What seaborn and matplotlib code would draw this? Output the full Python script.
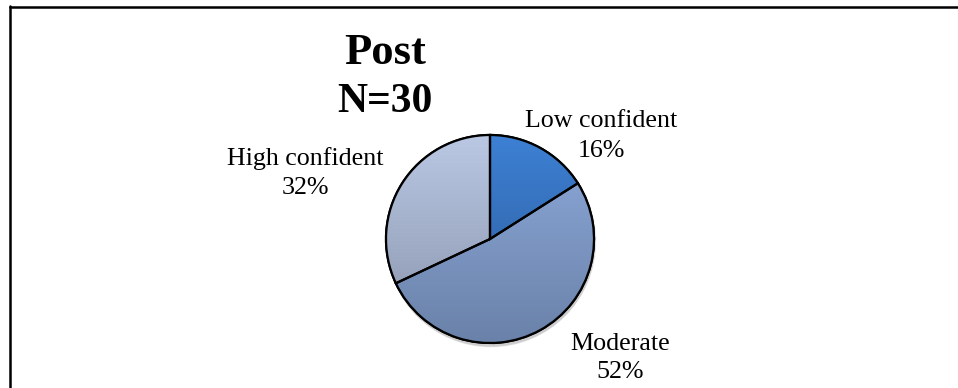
import numpy as np
import matplotlib
matplotlib.use("Agg")
import matplotlib.pyplot as plt
from matplotlib.lines import Line2D
from matplotlib.patches import Circle, Wedge
import seaborn as sns

# Post-course confidence survey
categories = ["Low confident", "Moderate", "High confident"]
shares = [16, 52, 32]
title_lines = ["Post", "N=30"]

# top / bottom colours of the vertical gradient in each slice
grad_top = ["#3d80d4", "#8eaadb", "#bac8e4"]
grad_bottom = ["#2c5a98", "#6a82a9", "#8893aa"]

sns.set_theme(style="white")
plt.rcParams["font.family"] = ["Liberation Serif", "DejaVu Serif"]

W, H = 958, 388
fig = plt.figure(figsize=(W / 100, H / 100), dpi=100)
fig.patch.set_facecolor("white")
ax = fig.add_axes([0, 0, 1, 1])

cx, cy, r = 490, H - 239, 104

# soft shadow under the pie
for i in range(4):
    ax.add_patch(Circle((cx + 1, cy - 2 - i * 0.8), r + 1.5 - i * 0.5,
                        facecolor="black", edgecolor="none", alpha=0.05, zorder=1))

wedges, _ = ax.pie(shares, startangle=90, counterclock=False, center=(cx, cy),
                   radius=r, colors=grad_top,
                   wedgeprops=dict(edgecolor="black", linewidth=1.6),
                   frame=True)
ax.set_xlim(0, W)
ax.set_ylim(0, H)
ax.set_aspect("equal")
ax.axis("off")

# vertical gradient fill clipped to each wedge
t = np.linspace(0, 1, 256)[:, None, None]
for w, c0, c1 in zip(wedges, grad_top, grad_bottom):
    w.set_zorder(2)
    a0 = np.array(matplotlib.colors.to_rgb(c0))[None, None, :]
    a1 = np.array(matplotlib.colors.to_rgb(c1))[None, None, :]
    img = np.repeat(a0 * (1 - t) + a1 * t, 2, axis=1)
    im = ax.imshow(img, extent=(cx - r, cx + r, cy - r, cy + r), origin="upper",
                   aspect="auto", zorder=3, interpolation="bilinear")
    im.set_clip_path(w)
    # outline on top of the gradient
    ax.add_patch(Wedge(w.center, w.r, w.theta1, w.theta2, facecolor="none",
                       edgecolor="black", linewidth=1.6, zorder=4))

# slice labels: (centre x, baseline of name, baseline of percentage)
label_pos = {"Low confident": (601, 127, 157), "Moderate": (620, 350, 378),
             "High confident": (305, 165, 194)}
for name, s in zip(categories, shares):
    x, y1, y2 = label_pos[name]
    ax.text(x, H - y1, name, ha="center", va="baseline", fontsize=18.7,
            color="black", zorder=5)
    ax.text(x, H - y2, f"{s}%", ha="center", va="baseline", fontsize=18.7,
            color="black", zorder=5)

for line, yb, fs in zip(title_lines, [64, 112], [32, 30]):
    ax.text(385, H - yb, line, ha="center", va="baseline",
            fontsize=fs, fontweight="bold", color="black")

# chart border (left and top edges)
fig.add_artist(Line2D([9.5 / W, 9.5 / W], [0, 1 - 6 / H], transform=fig.transFigure,
                      color="black", linewidth=1.8))
fig.add_artist(Line2D([9.5 / W, 1], [1 - 6.5 / H, 1 - 6.5 / H], transform=fig.transFigure,
                      color="black", linewidth=1.8))

fig.savefig("out.png", dpi=100, facecolor="white")
